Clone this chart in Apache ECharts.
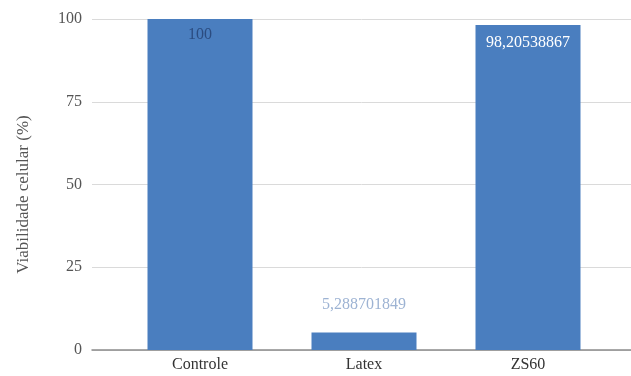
<!DOCTYPE html>
<html>
<head>
<meta charset="utf-8">
<script src="https://cdn.jsdelivr.net/npm/echarts@6/dist/echarts.min.js"></script>
<style>html,body{margin:0;padding:0;background:#fff}#c{width:631px;height:376px}</style>
</head>
<body>
<div id="c"></div>
<script>
var categories = ['Controle', 'Latex', 'ZS60'];
var values = [100, 5.288701849, 98.20538867];
var labelTexts = ['100', '5,288701849', '98,20538867'];
var yTicks = [0, 25, 50, 75, 100];

var labelStyles = [
  { position: 'insideTop', distance: 8, color: '#2b4c80' },
  { position: 'top', distance: 20, color: '#9db3d3' },
  { position: 'insideTop', distance: 10, color: '#ffffff' }
];

var font = '"Liberation Serif", "DejaVu Serif", serif';
var chart = echarts.init(document.getElementById('c'), null, { renderer: 'canvas' });

var data = values.map(function (v, i) {
  return {
    value: v,
    label: {
      show: true,
      position: labelStyles[i].position,
      distance: labelStyles[i].distance,
      color: labelStyles[i].color,
      fontFamily: font,
      fontSize: 16,
      formatter: function () { return labelTexts[i]; }
    }
  };
});

chart.setOption({
  animation: false,
  grid: [
    { left: 92, right: 0, top: 19, bottom: 26 },
    { left: 118, right: 21, top: 19, bottom: 26 }
  ],
  xAxis: [
    { type: 'category', gridIndex: 0, data: [''], axisTick: { show: false }, axisLabel: { show: false },
      axisLine: { show: true, lineStyle: { color: '#8c8c8c', width: 1.5 } } },
    { type: 'category', gridIndex: 1, data: categories, axisTick: { show: false },
      axisLine: { show: false },
      axisLabel: { color: '#333', fontFamily: font, fontSize: 16, margin: 7 } }
  ],
  yAxis: [
    { type: 'value', gridIndex: 0, min: yTicks[0], max: yTicks[yTicks.length - 1], interval: 25,
      axisLine: { show: false }, axisTick: { show: false },
      axisLabel: { color: '#555', fontFamily: font, fontSize: 16, margin: 10 },
      splitLine: { lineStyle: { color: '#dadada', width: 1 } },
      name: 'Viabilidade celular (%)', nameLocation: 'middle', nameGap: 60,
      nameTextStyle: { color: '#555', fontFamily: font, fontSize: 17, padding: [0, 20, 0, 0] } },
    { type: 'value', gridIndex: 1, min: 0, max: 100, interval: 25, show: false }
  ],
  series: [{
    type: 'bar',
    xAxisIndex: 1,
    yAxisIndex: 1,
    barWidth: 105,
    itemStyle: { color: '#4a7ebf' },
    data: data
  }]
});
</script>
</body>
</html>
